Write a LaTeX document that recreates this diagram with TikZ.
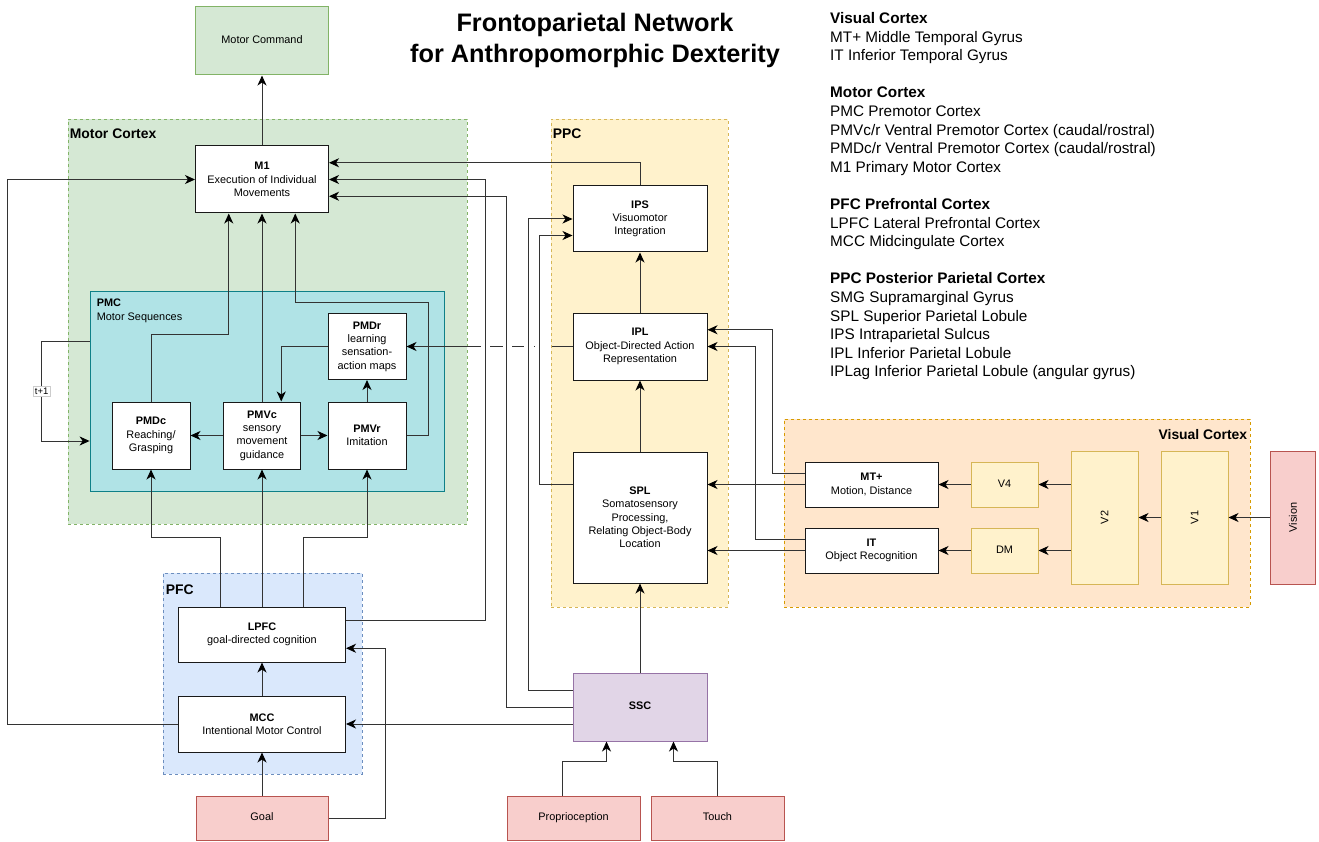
\documentclass[tikz,border=0pt]{standalone}
\usepackage{fontspec}
\setmainfont{Liberation Sans}
\usepackage{graphicx}
\usetikzlibrary{arrows.meta}
\definecolor{grfill}{HTML}{D5E8D4}
\definecolor{grline}{HTML}{82B366}
\definecolor{tlfill}{HTML}{B0E3E6}
\definecolor{tlline}{HTML}{0E8088}
\definecolor{blfill}{HTML}{DAE8FC}
\definecolor{blline}{HTML}{6C8EBF}
\definecolor{ylfill}{HTML}{FFF2CC}
\definecolor{ylline}{HTML}{D6B656}
\definecolor{orfill}{HTML}{FFE6CC}
\definecolor{orline}{HTML}{D79B00}
\definecolor{rdfill}{HTML}{F8CECC}
\definecolor{rdline}{HTML}{B85450}
\definecolor{ppfill}{HTML}{E1D5E7}
\definecolor{ppline}{HTML}{9673A6}
\newcommand{\dgfont}{\fontsize{10.9}{13.3}\selectfont}
\newcommand{\grpfont}{\fontsize{13.9}{17}\selectfont\bfseries}
\newcommand{\legfont}{\fontsize{15.3}{18.6}\selectfont}
\newcommand{\ttlfont}{\fontsize{25.3}{31}\selectfont\bfseries}
\tikzset{
	dims/.style 2 args={minimum width=#1,minimum height=#2},
	box/.style={draw=black!90,line width=1pt,fill=white,align=center,inner sep=0pt,font=\dgfont},
	area/.style={box,fill=ylfill,draw=ylline},
	sense/.style={box,fill=rdfill,draw=rdline},
	oneline/.style={text height=7.9pt,text depth=2.3pt},
	group/.style={draw,line width=0.8pt,dash pattern=on 3pt off 3pt,inner sep=0pt},
	glabel/.style={font=\grpfont,anchor=base west,inner sep=0pt},
	arr/.style={draw=black!80,line width=1pt,-{Stealth[length=10pt,width=9pt,inset=3pt,color=black]}},
	dashdot/.style={dash pattern=on 21pt off 17pt on 1pt off 10pt on 12pt off 9pt on 13pt off 9pt on 80pt}
}
\begin{document}
\begin{tikzpicture}[x=1pt,y=-1pt]
	\useasboundingbox (0,0) rectangle (1319,842);
	% regions
	\node[group,fill=grfill,draw=grline,dims={399}{405}] (motor) at (267.5,321.5) {};
	\node[group,solid,fill=tlfill,draw=tlline,dims={354}{200}] (pmc) at (267,391) {};
	\node[group,fill=blfill,draw=blline,dims={199}{201}] (pfc) at (262.5,673.5) {};
	\node[group,fill=ylfill,draw=ylline,dims={177}{488}] (ppc) at (639.5,363) {};
	\node[group,fill=orfill,draw=orline,dims={466}{188}] (visual) at (1017,513) {};
	\node[glabel] (motortitle) at ([xshift=2pt,yshift=-20pt]motor.north west) {Motor Cortex};
	\node[glabel] (ppctitle) at ([xshift=2pt,yshift=-20pt]ppc.north west) {PPC};
	\node[glabel] (pfctitle) at ([xshift=3pt,yshift=-22pt]pfc.north west) {PFC};
	\node[glabel,anchor=base east] (vistitle) at ([xshift=-3pt,yshift=-21pt]visual.north east) {Visual Cortex};
	\node[font=\dgfont\bfseries,anchor=base west,inner sep=0pt] (pmctitle) at ([xshift=7pt,yshift=-16pt]pmc.north west) {PMC};
	\node[font=\dgfont,anchor=base west,inner sep=0pt] (pmcsub) at ([xshift=7pt,yshift=-30pt]pmc.north west) {Motor Sequences};

	% motor side
	\node[box,oneline,fill=grfill,draw=grline,dims={133}{68}] (cmd) at (262,41) {Motor Command};
	\node[box,dims={133}{67}] (m1) at (262,179.5) {\textbf{M1}\\Execution of Individual\\Movements};
	\node[box,dims={78}{66}] (pmdr) at (367,346.5) {\textbf{PMDr}\\learning\\sensation-\\action maps};
	\node[box,dims={78}{67}] (pmdc) at (151,435.5) {\textbf{PMDc}\\Reaching/\\Grasping};
	\node[box,dims={77}{67}] (pmvc) at (262,435.5) {\textbf{PMVc}\\sensory\\movement\\guidance};
	\node[box,dims={78}{67}] (pmvr) at (367,435.5) {\textbf{PMVr}\\Imitation};
	\node[box,dims={167}{55}] (lpfc) at (262,634.5) {\textbf{LPFC}\\goal-directed cognition};
	\node[box,dims={167}{56}] (mcc) at (262,724) {\textbf{MCC}\\Intentional Motor Control};
	\node[sense,oneline,dims={132}{44}] (goal) at (262,818) {Goal};

	% parietal side
	\node[box,dims={134}{66}] (ips) at (640,219) {\textbf{IPS}\\Visuomotor\\Integration};
	\node[box,dims={134}{67}] (ipl) at (640,346.5) {\textbf{IPL}\\Object-Directed Action\\Representation};
	\node[box,dims={134}{131}] (spl) at (640,517.5) {\textbf{SPL}\\Somatosensory\\Processing,\\Relating Object-Body\\Location};
	\node[box,oneline,fill=ppfill,draw=ppline,dims={134}{68}] (ssc) at (640,707) {\textbf{SSC}};
	\node[sense,oneline,dims={133}{44}] (prop) at (573.5,818) {Proprioception};
	\node[sense,oneline,dims={133}{44}] (touch) at (717.5,818) {Touch};

	% visual side
	\node[box,dims={133}{45}] (mt) at (871.5,484.5) {\textbf{MT+}\\Motion, Distance};
	\node[box,dims={133}{45}] (it) at (871.5,550.5) {\textbf{IT}\\Object Recognition};
	\node[area,oneline,dims={67}{45}] (v4) at (1004.5,484.5) {V4};
	\node[area,oneline,dims={67}{45}] (dm) at (1004.5,550.5) {DM};
	\node[area,dims={67}{133}] (v2) at (1104.5,517.5) {\rotatebox{90}{V2}};
	\node[area,dims={67}{133}] (v1) at (1194.5,517.5) {\rotatebox{90}{V1}};
	\node[sense,dims={45}{133}] (vision) at (1293,517.5) {\rotatebox{90}{Vision}};

	% title and legend
	\node[font=\ttlfont,align=center,anchor=north,inner sep=0pt] (title) at (595,13) {Frontoparietal Network\\for Anthropomorphic Dexterity};
	\node[font=\legfont,align=left,anchor=north west,inner sep=0pt] (legend) at (830,12.3) {%
		\textbf{Visual Cortex}\\MT+ Middle Temporal Gyrus\\IT Inferior Temporal Gyrus\\[18.6pt]
		\textbf{Motor Cortex}\\PMC Premotor Cortex\\PMVc/r Ventral Premotor Cortex (caudal/rostral)\\PMDc/r Ventral Premotor Cortex (caudal/rostral)\\M1 Primary Motor Cortex\\[18.6pt]
		\textbf{PFC Prefrontal Cortex}\\LPFC Lateral Prefrontal Cortex\\MCC Midcingulate Cortex\\[18.6pt]
		\textbf{PPC Posterior Parietal Cortex}\\SMG Supramarginal Gyrus\\SPL Superior Parietal Lobule\\IPS Intraparietal Sulcus\\IPL Inferior Parietal Lobule\\IPLag Inferior Parietal Lobule (angular gyrus)};

	% motor cortex links
	\draw[arr] (m1.north) -- (cmd.south);
	\draw[arr] (pmdc.north) -- ++(0,-67) -| ([xshift=-33.25pt]m1.south);
	\draw[arr] (pmvc.north) -- (m1.south);
	\draw[arr] (pmvr.east) -- ++(22,0) -- ++(0,-133.5) -| ([xshift=33.25pt]m1.south);
	\draw[arr] (pmvc.west) -- (pmdc.east);
	\draw[arr] (pmvc.east) -- (pmvr.west);
	\draw[arr] (pmvr.north) -- (pmdr.south);
	\draw[arr] (pmdr.west) -| ([xshift=19.25pt]pmvc.north);
	\draw[arr] ([yshift=50pt]pmc.west) -- ++(-48,0) |- node[pos=0.25,fill=white,draw=black!20,line width=0.4pt,inner sep=1.5pt,font=\fontsize{9.5}{10}\selectfont] (tnext) {t+1} ([yshift=-50pt]pmc.west);

	% prefrontal links
	\draw[arr] (goal.north) -- (mcc.south);
	\draw[arr] (mcc.north) -- (lpfc.south);
	\draw[arr] (goal.east) -- ++(57,0) |- ([yshift=-13.75pt]lpfc.east);
	\draw[arr] ([xshift=-41.75pt]lpfc.north) -- ++(0,-69) -| (pmdc.south);
	\draw[arr] (lpfc.north) -- (pmvc.south);
	\draw[arr] ([xshift=41.75pt]lpfc.north) -- ++(0,-69) -| (pmvr.south);
	\draw[arr] ([yshift=13.75pt]lpfc.east) -- ++(139.5,0) |- (m1.east);
	\draw[arr] (mcc.west) -- ++(-170.5,0) |- (m1.west);

	% parietal links
	\draw[arr] (ssc.north) -- (spl.south);
	\draw[arr] (spl.north) -- (ipl.south);
	\draw[arr] (ipl.north) -- (ips.south);
	\draw[arr] (ips.north) |- ([yshift=16.75pt]m1.east);
	\draw[arr,dashdot] (ipl.west) -- (pmdr.east);
	\draw[arr] ([yshift=33pt]spl.west) -- ++(-33,0) |- ([yshift=-16.5pt]ips.west);
	\draw[arr] ([yshift=16.75pt]ssc.west) -- ++(-44,0) |- (ips.west);
	\draw[arr] (ssc.west) -- ++(-66,0) |- ([yshift=-16.75pt]m1.east);
	\draw[arr] (ssc.west |- mcc.east) -- (mcc.east);
	\draw[arr] ([xshift=-11.5pt]prop.north) -- ++(0,-34) -| ([xshift=-33.5pt]ssc.south);
	\draw[arr] (touch.north) -- ++(0,-34) -| ([xshift=33.5pt]ssc.south);

	% visual links
	\draw[arr] (vision.west) -- (v1.east);
	\draw[arr] (v1.west) -- (v2.east);
	\draw[arr] (v2.west |- v4.east) -- (v4.east);
	\draw[arr] (v2.west |- dm.east) -- (dm.east);
	\draw[arr] (v4.west) -- (mt.east);
	\draw[arr] (dm.west) -- (it.east);
	\draw[arr] (mt.west) -- (mt.west -| spl.east);
	\draw[arr] (it.west) -- (it.west -| spl.east);
	\draw[arr] ([yshift=11.25pt]mt.west) -- ++(-32,0) |- ([yshift=16.75pt]ipl.east);
	\draw[arr] ([yshift=11.25pt]it.west) -- ++(-49,0) |- (ipl.east);
\end{tikzpicture}
\end{document}
